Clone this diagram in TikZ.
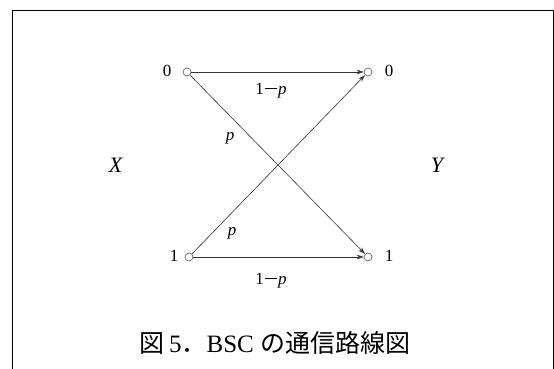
\documentclass[tikz,border=0pt]{standalone}
\usepackage{fontspec}
\setmainfont{Liberation Serif}
\newfontfamily\cjk{Noto Sans CJK JP}
\usetikzlibrary{arrows.meta}
\newcommand\mymin{\kern1.5pt\raisebox{0.5pt}{\rule[0.3em]{0.65em}{1.3pt}}\kern1.5pt}
\begin{document}
\begin{tikzpicture}[x=1pt,y=-1pt,
  term/.style={circle,draw=black!60,line width=0.7pt,inner sep=0pt,minimum size=8pt},
  conn/.style={draw=black!80,line width=0.6pt,-{Stealth[length=7pt,width=4.5pt]}},
  lbl/.style={inner sep=0pt,font=\fontsize{17}{19}\selectfont},
  var/.style={inner sep=0pt,font=\fontsize{22}{24}\selectfont},
  frame/.style={draw=black,line width=1pt}]
\useasboundingbox (0,0) rectangle (554,369);
\coordinate (fbl) at (12,369);
\coordinate (ftl) at (12,11);
\coordinate (ftr) at (553,11);
\coordinate (fbr) at (553,369);
\draw[frame] (fbl) -- (ftl) -- (ftr) -- (fbr);
\node[term] (a0) at (187,72) {};
\node[term] (a1) at (189,257) {};
\node[term] (b0) at (368,72) {};
\node[term] (b1) at (368,257) {};
\node[lbl] (la0) at (167,71) {0};
\node[lbl] (la1) at (174,256) {1};
\node[lbl] (lb0) at (389,71) {0};
\node[lbl] (lb1) at (389,256) {1};
\draw[conn] (a0) -- (b0);
\draw[conn] (a0) -- (b1);
\draw[conn] (a1) -- (b0);
\draw[conn] (a1) -- (b1);
\node[lbl] (t1) at (271,91) {1\mymin\textit{p}};
\node[lbl] (t2) at (230,138) {\textit{p}};
\node[lbl] (t3) at (232,233) {\textit{p}};
\node[lbl] (t4) at (271,281) {1\mymin\textit{p}};
\node[var] (vx) at (116,165) {\textit{X}};
\node[var] (vy) at (438,165) {\textit{Y}};
\node[inner sep=0pt,font=\fontsize{25}{28}\selectfont] (cap) at (275,343) {{\cjk 図}\,5{\cjk ．}BSC {\cjk の通信路線図}};
\end{tikzpicture}
\end{document}
